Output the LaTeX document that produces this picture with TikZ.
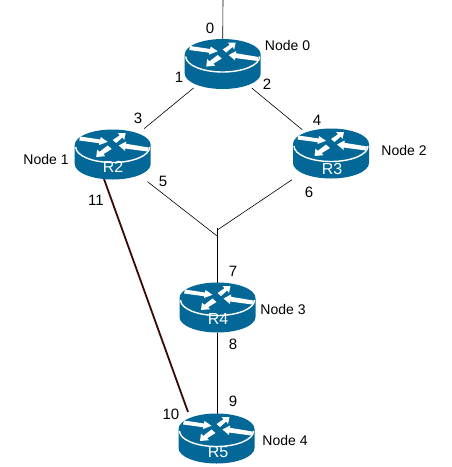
\documentclass[tikz,border=0pt]{standalone}
\usepackage{fontspec}
\setmainfont{Liberation Sans}
\usetikzlibrary{shapes.geometric}
\definecolor{ciscoblue}{HTML}{036897}
\definecolor{maroonline}{HTML}{3A0A0A}
\tikzset{
  x=1pt,y=-1pt,
  routerbox/.style={ellipse,minimum width=76pt,minimum height=50pt,inner sep=0pt,outer sep=0pt},
  lbl/.style={font=\fontsize{15}{15}\selectfont,text=black,inner sep=0pt},
  nodelbl/.style={font=\fontsize{14}{14}\selectfont,text=black,inner sep=0pt},
  rname/.style={font=\fontsize{16}{16}\selectfont,text=white,inner sep=0pt},
  link/.style={draw=black,line width=0.6pt},
  heavy/.style={draw=maroonline,line width=1.8pt},
  router/.pic={
    \fill[ciscoblue] (-38,-9.5) arc[start angle=180,end angle=0,x radius=38pt,y radius=15.5pt]
      -- (38,9.5) arc[start angle=360,end angle=180,x radius=38pt,y radius=15.5pt] -- cycle;
    \draw[white,line width=1.4pt] (-37,-7.5) arc[start angle=180,end angle=360,x radius=37pt,y radius=15.5pt];
    \begin{scope}[shift={(0,-9.5)}]
      \fill[white] (-32.5,-8.5) -- (-12.5,-5.5) -- (-12,-8) -- (-5,-3.2) -- (-13.5,0) -- (-13.5,-1.8) -- (-33.5,-4.5) -- cycle;
      \fill[white] (13,-12) -- (5,-12) -- (7,-9.7) -- (0,-5) -- (3.5,-2) -- (9.8,-7.5) -- (11.5,-5) -- cycle;
      \fill[white] (6,0.5) -- (13.5,-3.5) -- (13.5,-1.2) -- (36,2.5) -- (34.8,6.5) -- (12.5,3.5) -- (12.5,6) -- cycle;
      \fill[white] (-16.5,12) -- (-15.5,4.5) -- (-13.2,6.8) -- (-5,0.5) -- (-1,4) -- (-9.3,9.2) -- (-7.5,11.2) -- cycle;
    \end{scope}
  }
}
\begin{document}
\begin{tikzpicture}
\useasboundingbox (0,0) rectangle (451,467);
\fill[white] (0,0) rectangle (451,467);

% routers (invisible anchors)
\node[routerbox] (r0) at (222.7,64) {};
\node[routerbox] (r1) at (112.7,154.5) {};
\node[routerbox] (r2) at (331,153.5) {};
\node[routerbox] (r3) at (217.5,307.5) {};
\node[routerbox] (r4) at (216.5,438.5) {};
\coordinate (top) at (223,0);
\coordinate (jl) at (218,236.7);
\coordinate (jr) at (217.3,230);
\coordinate (jt) at (217.5,228);
\coordinate (h1) at (104,179);
\coordinate (h2) at (188,412);

% connectors
\draw[link] (top) -- (r0.north);
\draw[link,shorten <=7pt,shorten >=10pt] (r0) -- (r1);
\draw[link,shorten <=7pt,shorten >=6.5pt] (r0) -- (r2);
\draw[link,shorten <=13pt] (r1) -- (jl);
\draw[link,shorten <=15pt] (r2) -- (jr);
\draw[link] (jt) -- (r3.north);
\draw[link] (r3.south) -- (r3.south |- r4.north);
\draw[heavy] (h1) -- (h2);

% router symbols
\pic at (r0) {router};
\pic at (r1) {router};
\pic at (r2) {router};
\pic at (r3) {router};
\pic at (r4) {router};

% router names
\node[rname] (n1) at (113,167) {R2};
\node[rname] (n2) at (332,169) {R3};
\node[rname] (n3) at (218,319) {R4};
\node[rname] (n4) at (218,452) {R5};

% node names
\node[nodelbl] (t0) at (287.5,45) {Node 0};
\node[nodelbl] (t1) at (46,159) {Node 1};
\node[nodelbl] (t2) at (404,150) {Node 2};
\node[nodelbl] (t3) at (283,309) {Node 3};
\node[nodelbl] (t4) at (285,440) {Node 4};

% port numbers
\node[lbl] (p0) at (210,28) {0};
\node[lbl] (p1) at (179,77) {1};
\node[lbl] (p2) at (267,84) {2};
\node[lbl] (p3) at (138,118) {3};
\node[lbl] (p4) at (317,120) {4};
\node[lbl] (p5) at (163,181) {5};
\node[lbl] (p6) at (309,192) {6};
\node[lbl] (p7) at (233,271) {7};
\node[lbl] (p8) at (233,344) {8};
\node[lbl] (p9) at (233,401) {9};
\node[lbl] (p10) at (171,414) {10};
\node[lbl] (p11) at (96,200) {11};
\end{tikzpicture}
\end{document}
